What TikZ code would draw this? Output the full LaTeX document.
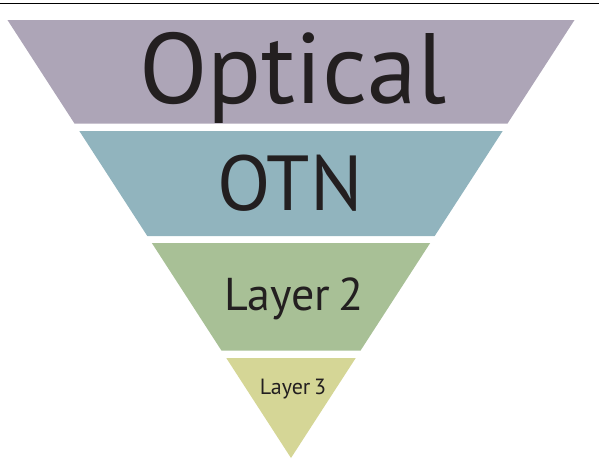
\documentclass[tikz,border=0pt]{standalone}
\usepackage{fontspec}
\setmainfont{PT Sans}
\definecolor{bandA}{RGB}{173,165,183}
\definecolor{bandB}{RGB}{145,180,190}
\definecolor{bandC}{RGB}{168,192,150}
\definecolor{bandD}{RGB}{213,214,150}
\definecolor{ink}{RGB}{35,31,32}
\begin{document}
\begin{tikzpicture}[x=1pt,y=-1pt,
  label/.style={text=ink,inner sep=0pt,anchor=base}]
\useasboundingbox (0,0) rectangle (599,459);
% apex of the funnel and the half-width slope
\def\ax{291}\def\ay{458}\def\sl{0.6473}
% band from y=#1 to y=#2
\newcommand\band[3]{%
  \fill[#3] ({\ax-\sl*(\ay-#1)},#1) -- ({\ax+\sl*(\ay-#1)},#1)
    -- ({\ax+\sl*(\ay-#2)},#2) -- ({\ax-\sl*(\ay-#2)},#2) -- cycle;}
\draw[line width=0.8pt] (0,3) -- (599,3);
\band{20}{123.5}{bandA}
\band{131}{236}{bandB}
\band{243}{350.5}{bandC}
\fill[bandD] ({\ax-\sl*(\ay-358)},358) -- ({\ax+\sl*(\ay-358)},358) -- (\ax,\ay) -- cycle;
\node[label,font=\fontsize{100}{100}\selectfont] (optical) at (293,103) {Optical};
\node[label,font=\fontsize{78}{78}\selectfont] (otn) at (290,210) {OTN};
\node[label,font=\fontsize{46}{46}\selectfont] (l2) at (294,310) {Layer\,2};
\node[label,font=\fontsize{22}{22}\selectfont] (l3) at (293,394) {Layer\,3};
\end{tikzpicture}
\end{document}
